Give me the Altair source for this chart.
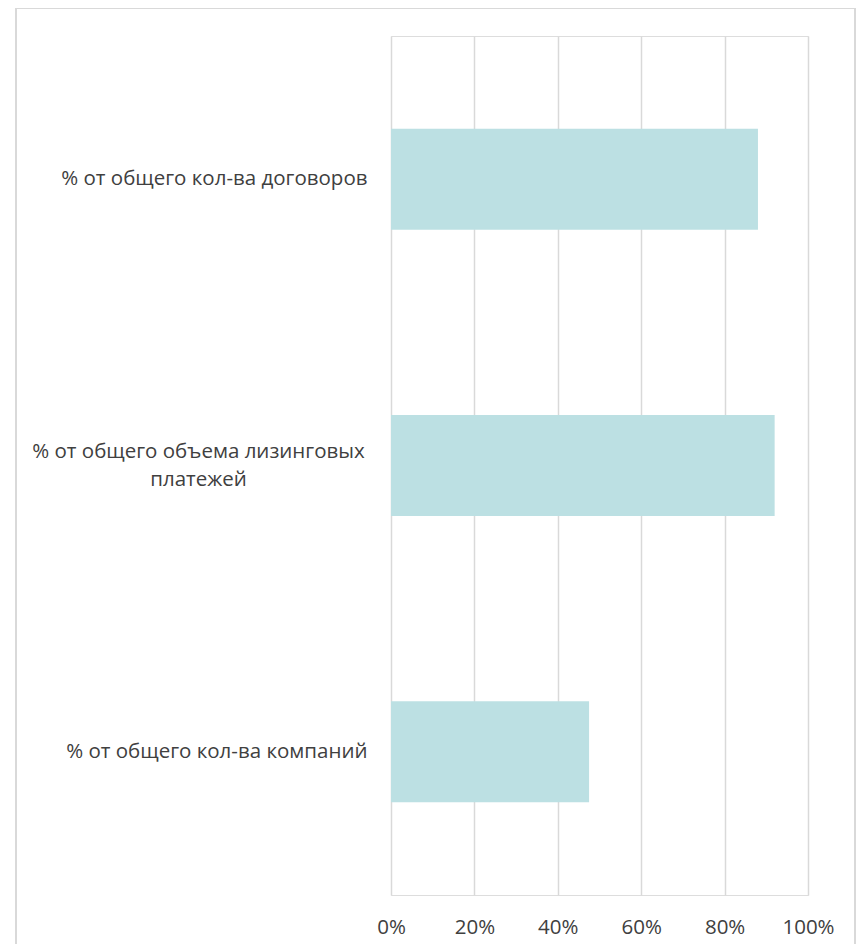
import altair as alt
import pandas as pd

categories = [
    "% от общего кол-ва договоров",
    "% от общего объема лизинговых\nплатежей",
    "% от общего кол-ва компаний",
]
values = [0.88, 0.92, 0.475]
tick_values = [0, 0.2, 0.4, 0.6, 0.8, 1.0]

df = pd.DataFrame({"cat": categories, "value": values})

FONT = "Open Sans"
TXT = "#404040"
GRID = "#d9d9d9"
multi = "indexof(datum.value, '\\n') >= 0"

bars = alt.Chart(df).mark_bar(color="#BCE0E3").encode(
    y=alt.Y(
        "cat:N",
        sort=None,
        title=None,
        scale=alt.Scale(paddingInner=0.647, paddingOuter=0.3235),
        axis=alt.Axis(
            ticks=False,
            domain=False,
            grid=False,
            labelFont=FONT,
            labelFontSize=20.5,
            labelColor=TXT,
            labelAlign={"condition": {"test": multi, "value": "center"}, "value": "right"},
            labelPadding={"condition": {"test": multi, "value": 193}, "value": 24},
            labelOffset={"condition": {"test": multi, "value": -14}, "value": 0},
            labelLimit=400,
            labelLineHeight=28,
            labelExpr="split(datum.value, '\\n')",
        ),
    ),
    x=alt.X(
        "value:Q",
        title=None,
        scale=alt.Scale(domain=[0, 1], nice=False),
        axis=alt.Axis(
            values=tick_values,
            format=".0%",
            ticks=False,
            domain=False,
            grid=True,
            gridColor=GRID,
            gridWidth=1.5,
            labelFont=FONT,
            labelFontSize=20.5,
            labelColor=TXT,
            labelPadding=32,
            labelBaseline="middle",
            labelFlush=False,
        ),
    ),
)

frame = alt.Chart(df).mark_rect(
    fill=None, filled=False, stroke=GRID, strokeWidth=1.5
).encode(
    x=alt.value(-375),
    x2=alt.value(464),
    y=alt.value(-28),
    y2=alt.value(970),
)

chart = alt.layer(frame, bars).properties(
    width=417,
    height=859,
    autosize=alt.AutoSizeParams(type="none"),
    padding={"left": 383, "top": 28, "right": 48, "bottom": 49},
).configure_view(stroke=None).configure(background="white")

chart.save("out.html", embed_options={"renderer": "svg", "actions": False})
